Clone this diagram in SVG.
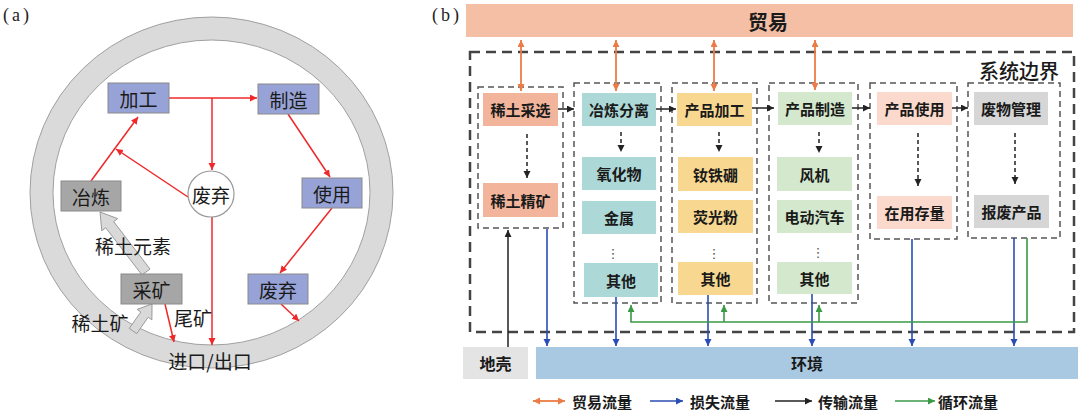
<svg xmlns="http://www.w3.org/2000/svg" width="1080" height="412" viewBox="0 0 1080 412">
<defs>
<style>
.cjk{font-family:"Noto Sans CJK SC","Noto Sans",sans-serif;fill:#1a1a1a}
.la{font-size:19px}
.lb{font-size:15px;font-weight:600}
.boxa{fill:#97a3d6;stroke:#8a8a8a;stroke-width:1}
.boxg{fill:#a6a6a6;stroke:#8a8a8a;stroke-width:1}
.red{stroke:#f02828;stroke-width:1.5;fill:none;marker-end:url(#mr)}
.grp{fill:none;stroke:#555;stroke-width:1.5;stroke-dasharray:6,4}
.dsh{stroke:#222;stroke-width:1.5;stroke-dasharray:4,3;fill:none;marker-end:url(#mk)}
.blk{stroke:#222;stroke-width:1.5;fill:none;marker-end:url(#mk)}
.blu{stroke:#2a4db5;stroke-width:1.6;fill:none;marker-end:url(#mb)}
.grn{stroke:#3a9a46;stroke-width:1.6;fill:none}
.ora{stroke:#ec7c45;stroke-width:1.8;fill:none;marker-start:url(#mo);marker-end:url(#mo)}
</style>
<marker id="mr" markerUnits="userSpaceOnUse" markerWidth="8" markerHeight="8" refX="7" refY="3.5" orient="auto"><path d="M0,0 L7,3.5 L0,7 z" fill="#f02828"/></marker>
<marker id="mk" markerUnits="userSpaceOnUse" markerWidth="8" markerHeight="8" refX="7" refY="3.5" orient="auto"><path d="M0,0 L7,3.5 L0,7 z" fill="#222"/></marker>
<marker id="mb" markerUnits="userSpaceOnUse" markerWidth="8" markerHeight="8" refX="7" refY="3.5" orient="auto"><path d="M0,0 L7,3.5 L0,7 z" fill="#2a4db5"/></marker>
<marker id="mg" markerUnits="userSpaceOnUse" markerWidth="8" markerHeight="8" refX="7" refY="3.5" orient="auto"><path d="M0,0 L7,3.5 L0,7 z" fill="#3a9a46"/></marker>
<marker id="mo" markerUnits="userSpaceOnUse" markerWidth="8" markerHeight="8" refX="7" refY="3.5" orient="auto-start-reverse"><path d="M0,0 L7,3.5 L0,7 z" fill="#ec7c45"/></marker>
</defs>
<rect width="1080" height="412" fill="#fff"/>

<!-- Panel a -->
<text x="3" y="21" font-family="Liberation Serif, serif" font-size="18" letter-spacing="3" fill="#222">(a)</text>
<g id="ring">
<ellipse cx="211.5" cy="192.5" rx="170" ry="164" fill="none" stroke="#dadada" stroke-width="23"/>
<ellipse cx="211.5" cy="192.5" rx="181.5" ry="175.5" fill="none" stroke="#a0a0a0" stroke-width="1"/>
<ellipse cx="211.5" cy="192.5" rx="158.5" ry="152.5" fill="none" stroke="#a0a0a0" stroke-width="1"/>
<text class="cjk la" x="210" y="360" text-anchor="middle" dominant-baseline="central">进口/出口</text>
</g>
<g id="a-connectors">
<polygon points="100,212 117.6,218.6 113.7,221.7 150,269 142,275 105.7,227.7 101.8,230.8" fill="#d9d9d9" stroke="#9a9a9a" stroke-width="1"/>
<polygon points="152,304 151.9,319.8 148.2,317.2 136.7,333.6 129.3,328.4 140.8,312 137.1,309.4" fill="#d9d9d9" stroke="#9a9a9a" stroke-width="1"/>
<path class="red" d="M169,98 H257"/>
<path class="red" d="M212,98 V170"/>
<path class="red" d="M288,114 L330,177"/>
<path class="red" d="M332,208 L280,273"/>
<path class="red" d="M281,304 L299,321"/>
<path class="red" d="M212,217 V345"/>
<path class="red" d="M91,181 L138,117"/>
<path class="red" d="M188,197 L116,149"/>
<path class="red" d="M165,304 L174,342"/>
<text class="cjk la" x="133" y="245" text-anchor="middle" dominant-baseline="central">稀土元素</text>
<text class="cjk la" x="100" y="322" text-anchor="middle" dominant-baseline="central">稀土矿</text>
<text class="cjk la" x="193" y="317" text-anchor="middle" dominant-baseline="central">尾矿</text>
</g>
<g id="a-jiagong"><rect class="boxa" x="108" y="83" width="61" height="30"/><text class="cjk la" x="138.5" y="98" text-anchor="middle" dominant-baseline="central">加工</text></g>
<g id="a-zhizao"><rect class="boxa" x="258" y="84" width="61" height="30"/><text class="cjk la" x="288.5" y="99" text-anchor="middle" dominant-baseline="central">制造</text></g>
<g id="a-shiyong"><rect class="boxa" x="302" y="178" width="60" height="30"/><text class="cjk la" x="332" y="193" text-anchor="middle" dominant-baseline="central">使用</text></g>
<g id="a-feiqi2"><rect class="boxa" x="248" y="274" width="60" height="30"/><text class="cjk la" x="278" y="289" text-anchor="middle" dominant-baseline="central">废弃</text></g>
<g id="a-yelian"><rect class="boxg" x="61" y="181" width="60" height="30"/><text class="cjk la" x="91" y="196" text-anchor="middle" dominant-baseline="central">冶炼</text></g>
<g id="a-caikuang"><rect class="boxg" x="121" y="274" width="61" height="30"/><text class="cjk la" x="151.5" y="289" text-anchor="middle" dominant-baseline="central">采矿</text></g>
<g id="a-feiqi"><circle cx="211" cy="194" r="23" fill="#fff" stroke="#999" stroke-width="1.2"/><text class="cjk la" x="211" y="194" text-anchor="middle" dominant-baseline="central">废弃</text></g>

<!-- Panel b -->
<text x="432" y="21" font-family="Liberation Serif, serif" font-size="18" letter-spacing="3" fill="#222">(b)</text>
<g id="b-trade"><rect x="466" y="4" width="607" height="33" fill="#f4bfa5"/><text class="cjk" x="768" y="21" font-size="20" font-weight="600" text-anchor="middle" dominant-baseline="central">贸易</text></g>
<g id="b-boundary"><rect x="470" y="52" width="604" height="280" fill="none" stroke="#444" stroke-width="2.5" stroke-dasharray="10,6"/><text class="cjk" x="1019" y="70" font-size="20" font-weight="500" text-anchor="middle" dominant-baseline="central">系统边界</text></g>

<g id="b-g1">
<rect class="grp" x="478" y="87" width="85" height="141"/>
<rect x="483" y="93" width="75" height="33" fill="#f2b59b"/><text class="cjk lb" x="520.5" y="109.5" text-anchor="middle" dominant-baseline="central">稀土采选</text>
<rect x="483" y="183" width="75" height="34" fill="#f2b59b"/><text class="cjk lb" x="520.5" y="200" text-anchor="middle" dominant-baseline="central">稀土精矿</text>
</g>
<g id="b-g2">
<rect class="grp" x="574" y="83" width="87" height="220"/>
<rect x="582" y="93" width="74" height="33" fill="#acd8d8"/><text class="cjk lb" x="619" y="109.5" text-anchor="middle" dominant-baseline="central">冶炼分离</text>
<rect x="582" y="157" width="74" height="33" fill="#acd8d8"/><text class="cjk lb" x="619" y="173.5" text-anchor="middle" dominant-baseline="central">氧化物</text>
<rect x="582" y="201" width="74" height="33" fill="#acd8d8"/><text class="cjk lb" x="619" y="217.5" text-anchor="middle" dominant-baseline="central">金属</text>
<text x="613" y="253" font-family="DejaVu Sans, sans-serif" font-size="13" fill="#555" text-anchor="middle" dominant-baseline="central">⋮</text>
<rect x="584" y="263" width="74" height="34" fill="#acd8d8"/><text class="cjk lb" x="621" y="280" text-anchor="middle" dominant-baseline="central">其他</text>
</g>
<g id="b-g3">
<rect class="grp" x="672" y="83" width="85" height="220"/>
<rect x="677" y="93" width="75" height="33" fill="#f8d890"/><text class="cjk lb" x="714.5" y="109.5" text-anchor="middle" dominant-baseline="central">产品加工</text>
<rect x="678" y="157" width="75" height="34" fill="#f8d890"/><text class="cjk lb" x="715.5" y="174" text-anchor="middle" dominant-baseline="central">钕铁硼</text>
<rect x="678" y="200" width="75" height="33" fill="#f8d890"/><text class="cjk lb" x="715.5" y="216.5" text-anchor="middle" dominant-baseline="central">荧光粉</text>
<text x="714" y="253" font-family="DejaVu Sans, sans-serif" font-size="13" fill="#555" text-anchor="middle" dominant-baseline="central">⋮</text>
<rect x="678" y="262" width="75" height="33" fill="#f8d890"/><text class="cjk lb" x="715.5" y="278.5" text-anchor="middle" dominant-baseline="central">其他</text>
</g>
<g id="b-g4">
<rect class="grp" x="769" y="83" width="89" height="220"/>
<rect x="778" y="92" width="74" height="33" fill="#d3e8cc"/><text class="cjk lb" x="815" y="108.5" text-anchor="middle" dominant-baseline="central">产品制造</text>
<rect x="777" y="157" width="75" height="34" fill="#d3e8cc"/><text class="cjk lb" x="814.5" y="174" text-anchor="middle" dominant-baseline="central">风机</text>
<rect x="777" y="200" width="75" height="33" fill="#d3e8cc"/><text class="cjk lb" x="814.5" y="216.5" text-anchor="middle" dominant-baseline="central">电动汽车</text>
<text x="818" y="252" font-family="DejaVu Sans, sans-serif" font-size="13" fill="#555" text-anchor="middle" dominant-baseline="central">⋮</text>
<rect x="777" y="262" width="75" height="32" fill="#d3e8cc"/><text class="cjk lb" x="814.5" y="278" text-anchor="middle" dominant-baseline="central">其他</text>
</g>
<g id="b-g5">
<rect class="grp" x="870" y="83" width="87" height="156"/>
<rect x="877" y="92" width="75" height="33" fill="#fbdacd"/><text class="cjk lb" x="914.5" y="108.5" text-anchor="middle" dominant-baseline="central">产品使用</text>
<rect x="877" y="196" width="75" height="33" fill="#fbdacd"/><text class="cjk lb" x="914.5" y="212.5" text-anchor="middle" dominant-baseline="central">在用存量</text>
</g>
<g id="b-g6">
<rect class="grp" x="968" y="83" width="92" height="155"/>
<rect x="974" y="92" width="74" height="33" fill="#d6d6d6"/><text class="cjk lb" x="1011" y="108.5" text-anchor="middle" dominant-baseline="central">废物管理</text>
<rect x="974" y="195" width="75" height="33" fill="#d6d6d6"/><text class="cjk lb" x="1011.5" y="211.5" text-anchor="middle" dominant-baseline="central">报废产品</text>
</g>
<g id="b-crust"><rect x="463" y="347" width="65" height="32" fill="#e4e4e4"/><text class="cjk" x="495.5" y="363" font-size="16" font-weight="600" text-anchor="middle" dominant-baseline="central">地壳</text></g>
<g id="b-env"><rect x="536" y="347" width="542" height="32" fill="#a9c9e3"/><text class="cjk" x="807" y="363" font-size="16" font-weight="600" text-anchor="middle" dominant-baseline="central">环境</text></g>

<g id="b-connectors">
<path class="ora" d="M521,40 V91"/>
<path class="ora" d="M616,40 V91"/>
<path class="ora" d="M714,40 V91"/>
<path class="ora" d="M815,40 V90"/>
<path class="dsh" d="M527,134 V178"/>
<path class="dsh" d="M621,132 V152"/>
<path class="dsh" d="M719,132 V152"/>
<path class="dsh" d="M819,132 V153"/>
<path class="dsh" d="M918,133 V186"/>
<path class="dsh" d="M1015,133 V184"/>
<path class="blk" d="M558,109 H574"/>
<path class="blk" d="M656,109 H676"/>
<path class="blk" d="M752,108 H774"/>
<path class="blk" d="M852,108 H870"/>
<path class="blk" d="M952,108 H968"/>
<path class="blk" d="M508,347 V230"/>
<path class="blu" d="M547,229 V346"/>
<path class="blu" d="M616,297 V346"/>
<path class="blu" d="M708,295 V346"/>
<path class="blu" d="M812,294 V346"/>
<path class="blu" d="M912,239 V346"/>
<path class="blu" d="M1014,238 V346"/>
<path class="grn" d="M1027,238 V322 H631 V305" marker-end="url(#mg)"/>
<path class="grn" d="M724,322 V305" marker-end="url(#mg)"/>
<path class="grn" d="M819,322 V305" marker-end="url(#mg)"/>
</g>

<g id="legend">
<path class="ora" d="M533,401 H565"/>
<text class="cjk lb" x="572" y="401" dominant-baseline="central">贸易流量</text>
<path class="blu" d="M650,401 H683"/>
<text class="cjk lb" x="690" y="401" dominant-baseline="central">损失流量</text>
<path class="blk" d="M775,401 H812"/>
<text class="cjk lb" x="818" y="401" dominant-baseline="central">传输流量</text>
<path class="grn" d="M895,401 H935" marker-end="url(#mg)"/>
<text class="cjk lb" x="938" y="401" dominant-baseline="central">循环流量</text>
</g>
</svg>
